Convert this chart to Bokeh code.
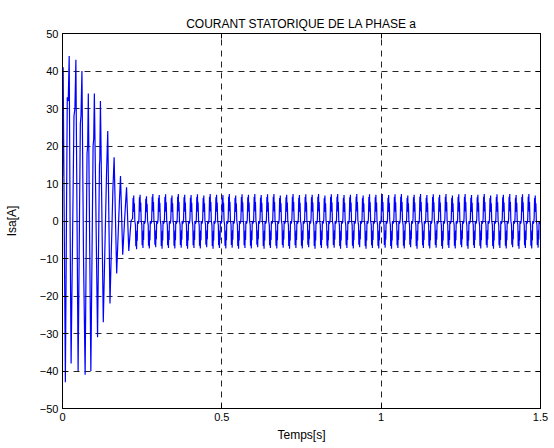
from bokeh.plotting import figure
from bokeh.models import LinearAxis, FixedTicker, Range1d
from bokeh.embed import file_html
from bokeh.resources import INLINE

# ---- data ----
# transient (start-up) part: time [s], current [A]
trans_t = [0.000, 0.002, 0.009, 0.015, 0.018, 0.021, 0.024, 0.027, 0.036, 0.039,
           0.042, 0.049, 0.056, 0.058, 0.061, 0.066, 0.071, 0.077, 0.079, 0.081,
           0.089, 0.096, 0.098, 0.100, 0.110, 0.116, 0.117, 0.119, 0.128, 0.138,
           0.142, 0.149, 0.158, 0.162, 0.170, 0.178, 0.182, 0.189, 0.196, 0.201,
           0.208, 0.215]
trans_v = [12, 41, -43, 33, 32, 44, -3, -38, 28, 30,
           43, -40, 26, 28, 40, -10, -41, 18, 20, 34,
           -40, 20, 22, 34, -31, 15, 16, 32, -27, 12,
           24, -22, 8, 17, -14, 4, 12, -9, 2, 9,
           -8, 0]

# steady state: start time of each 50 Hz cycle, its positive and negative peak
ss_start = [0.22, 0.24, 0.26, 0.28, 0.30, 0.32, 0.34, 0.36, 0.38, 0.40,
            0.42, 0.44, 0.46, 0.48, 0.50, 0.52, 0.54, 0.56, 0.58, 0.60,
            0.62, 0.64, 0.66, 0.68, 0.70, 0.72, 0.74, 0.76, 0.78, 0.80,
            0.82, 0.84, 0.86, 0.88, 0.90, 0.92, 0.94, 0.96, 0.98, 1.00,
            1.02, 1.04, 1.06, 1.08, 1.10, 1.12, 1.14, 1.16, 1.18, 1.20,
            1.22, 1.24, 1.26, 1.28, 1.30, 1.32, 1.34, 1.36, 1.38, 1.40,
            1.42, 1.44, 1.46, 1.48]
ss_peak = [6.8, 7.0, 6.6, 7.2, 6.9, 7.1, 6.8, 7.2, 7.0, 6.9,
           7.1, 6.8, 7.2, 7.0, 6.9, 7.2, 6.8, 7.1, 7.0, 7.2,
           6.9, 7.1, 7.2, 6.8, 7.0, 7.2, 6.9, 7.1, 7.0, 7.2,
           6.8, 7.1, 7.2, 6.9, 7.0, 7.2, 6.8, 7.1, 7.0, 7.2,
           6.9, 7.1, 7.2, 6.8, 7.0, 7.2, 6.9, 7.1, 7.0, 7.2,
           6.8, 7.1, 7.2, 6.9, 7.0, 7.2, 6.8, 7.1, 7.0, 7.2,
           6.9, 7.1, 7.2, 6.8]
ss_trough = [-7.5, -7.2, -7.3, -7.0, -7.4, -7.2, -7.3, -7.1, -7.4, -7.2,
             -7.3, -7.0, -7.4, -7.2, -7.3, -7.1, -7.4, -7.2, -7.3, -7.0,
             -7.4, -7.2, -7.3, -7.1, -7.4, -7.2, -7.3, -7.0, -7.4, -7.2,
             -7.3, -7.1, -7.4, -7.2, -7.3, -7.0, -7.4, -7.2, -7.3, -7.1,
             -7.4, -7.2, -7.3, -7.0, -7.4, -7.2, -7.3, -7.1, -7.4, -7.2,
             -7.3, -7.0, -7.4, -7.2, -7.3, -7.1, -7.4, -7.2, -7.3, -7.0,
             -7.4, -7.2, -7.3, -7.1]
# shape of one steady-state cycle: time offset [s], reference peak, fraction of it
shape_dt = [0.000, 0.0015, 0.0025, 0.0035, 0.0045, 0.0055, 0.0070, 0.0090,
            0.0100, 0.0115, 0.0125, 0.0135, 0.0145, 0.0155, 0.0170, 0.0190]
shape_ref = ["p", "p", "p", "p", "p", "p", "p", "t",
             "t", "t", "t", "t", "t", "t", "t", "p"]
shape_frac = [0.1, 0.9, 0.45, 1.0, 0.35, 0.7, 0.0, 0.15,
              0.9, 0.45, 1.0, 0.35, 0.7, 0.0, 0.1, -0.05]

x_ticks = [0, 0.5, 1, 1.5]
x_labels = {0: "0", 0.5: "0.5", 1: "1", 1.5: "1.5"}
y_ticks = [-50, -40, -30, -20, -10, 0, 10, 20, 30, 40, 50]

# ---- assemble the series ----
t_all = list(trans_t)
v_all = list(trans_v)
for s, pk, tr in zip(ss_start, ss_peak, ss_trough):
    for dt, ref, fr in zip(shape_dt, shape_ref, shape_frac):
        t_all.append(s + dt)
        v_all.append(fr * (pk if ref == "p" else tr))

FONT = "Liberation Sans"

p = figure(width=554, height=448, output_backend="svg", toolbar_location=None,
           x_range=Range1d(0, 1.5), y_range=Range1d(-50, 50),
           min_border_left=62, min_border_right=14, min_border_top=33, min_border_bottom=40,
           title="COURANT STATORIQUE DE LA PHASE a")
p.title.text_font = FONT
p.title.text_font_size = "12px"
p.title.text_font_style = "normal"
p.title.align = "center"
p.title.text_color = "black"
p.title.text_line_height = 2.0
p.title.standoff = 6

p.line(t_all, v_all, line_color="#0000FF", line_width=1.2)

p.background_fill_color = "white"
p.border_fill_color = "white"
p.outline_line_color = "black"
p.outline_line_width = 1

for ax in (p.xaxis[0], p.yaxis[0]):
    ax.major_tick_in = 5
    ax.major_tick_out = 0
    ax.minor_tick_line_color = None
    ax.axis_line_color = "black"
    ax.major_tick_line_color = "black"
    ax.major_label_text_font = FONT
    ax.major_label_text_font_size = "11px"
    ax.major_label_text_color = "black"
    ax.axis_label_text_font = FONT
    ax.axis_label_text_font_size = "12px"
    ax.axis_label_text_font_style = "normal"
    ax.axis_label_text_color = "black"

p.xaxis[0].ticker = FixedTicker(ticks=x_ticks)
p.xaxis[0].major_label_overrides = x_labels
p.xaxis[0].axis_label = "Temps[s]"
p.xaxis[0].major_label_standoff = 4
p.xaxis[0].axis_label_standoff = 4
p.yaxis[0].ticker = FixedTicker(ticks=y_ticks)
p.yaxis[0].axis_label = "Isa[A]"
p.yaxis[0].major_label_standoff = 4
p.yaxis[0].axis_label_standoff = 18

# top and right tick marks (box), no labels
for side, ticks in (("right", y_ticks), ("above", x_ticks)):
    ax = LinearAxis(ticker=FixedTicker(ticks=ticks))
    ax.major_tick_in = 5
    ax.major_tick_out = 0
    ax.minor_tick_line_color = None
    ax.major_label_text_font_size = "1px"
    ax.major_label_text_color = None
    ax.major_label_standoff = 0
    ax.axis_line_color = "black"
    ax.major_tick_line_color = "black"
    p.add_layout(ax, side)

p.xgrid.ticker = FixedTicker(ticks=x_ticks)
p.ygrid.ticker = FixedTicker(ticks=y_ticks)
for g in (p.xgrid[0], p.ygrid[0]):
    g.grid_line_color = "black"
    g.grid_line_dash = "6 5"
    g.grid_line_width = 1
    g.grid_line_alpha = 0.85

open("out.html", "w").write(file_html(p, INLINE))
